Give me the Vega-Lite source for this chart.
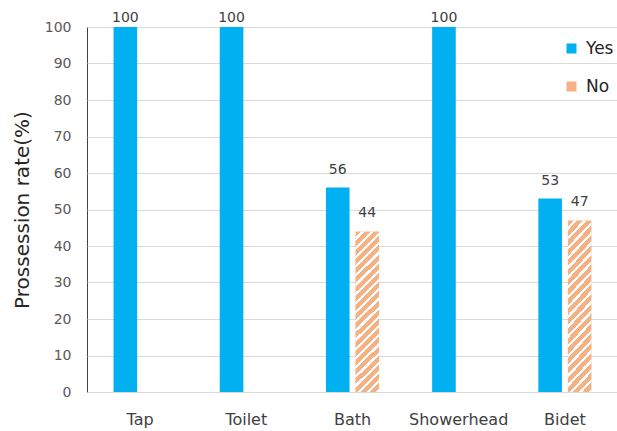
{
  "$schema": "https://vega.github.io/schema/vega-lite/v6.json",
  "width": 531,
  "height": 365,
  "autosize": {"type": "none"},
  "padding": {"left": 87, "top": 27, "right": 0, "bottom": 39},
  "background": "white",
  "config": {
    "view": {"stroke": "#404040", "strokeWidth": 1},
    "font": "DejaVu Sans"
  },
  "data": {
    "values": [
      {"item": "Tap", "answer": "Yes", "value": 100},
      {"item": "Tap", "answer": "No", "value": 0},
      {"item": "Toilet", "answer": "Yes", "value": 100},
      {"item": "Toilet", "answer": "No", "value": 0},
      {"item": "Bath", "answer": "Yes", "value": 56},
      {"item": "Bath", "answer": "No", "value": 44},
      {"item": "Showerhead", "answer": "Yes", "value": 100},
      {"item": "Showerhead", "answer": "No", "value": 0},
      {"item": "Bidet", "answer": "Yes", "value": 53},
      {"item": "Bidet", "answer": "No", "value": 47}
    ]
  },
  "transform": [{"filter": "datum.value > 0"}],
  "encoding": {
    "x": {
      "field": "item",
      "type": "nominal",
      "sort": ["Tap", "Toilet", "Bath", "Showerhead", "Bidet"],
      "scale": {"paddingInner": 0.5, "paddingOuter": 0.25},
      "axis": {
        "title": null,
        "labelAngle": 0,
        "domain": false,
        "ticks": false,
        "grid": false,
        "labelFontSize": 16,
        "labelColor": "#404040",
        "labelPadding": 19
      }
    },
    "xOffset": {
      "field": "answer",
      "type": "nominal",
      "sort": ["Yes", "No"],
      "scale": {"paddingInner": 0.2, "paddingOuter": 0}
    },
    "y": {
      "field": "value",
      "type": "quantitative",
      "scale": {"domain": [0, 100], "nice": false},
      "axis": {
        "title": "Prossession rate(%)",
        "titleFontSize": 20,
        "titleFontWeight": "normal",
        "titleColor": "#262626",
        "titlePadding": 12,
        "values": [0, 10, 20, 30, 40, 50, 60, 70, 80, 90, 100],
        "labelFontSize": 14,
        "labelColor": "#595959",
        "labelPadding": 16,
        "ticks": false,
        "domain": false,
        "grid": true,
        "gridColor": "#D9D9D9",
        "gridWidth": 1
      }
    }
  },
  "layer": [
    {
      "mark": {"type": "bar"},
      "encoding": {
        "color": {
          "field": "answer",
          "type": "nominal",
          "sort": ["Yes", "No"],
          "scale": {"domain": ["Yes", "No"], "range": ["#00B0F0", "#F4B183"]},
          "legend": {
            "title": null,
            "orient": "none",
            "legendX": 476,
            "legendY": 13,
            "symbolType": "square",
            "symbolSize": 100,
            "symbolStrokeWidth": 0,
            "labelFontSize": 17,
            "labelColor": "#262626",
            "labelOffset": 6,
            "rowPadding": 20
          }
        }
      }
    },
    {
      "transform": [{"filter": "datum.answer === 'No'"}],
      "mark": {
        "type": "bar",
        "fill": {
          "gradient": "linear",
          "x1": 0, "y1": 0, "x2": 0.1621, "y2": 1.1212,
          "stops": [
            {"offset": 0, "color": "rgba(255,255,255,0)"}, {"offset": 0.0325, "color": "rgba(255,255,255,0)"}, {"offset": 0.0325, "color": "#ffffff"}, {"offset": 0.05, "color": "#ffffff"},
            {"offset": 0.05, "color": "rgba(255,255,255,0)"}, {"offset": 0.0825, "color": "rgba(255,255,255,0)"}, {"offset": 0.0825, "color": "#ffffff"}, {"offset": 0.1, "color": "#ffffff"},
            {"offset": 0.1, "color": "rgba(255,255,255,0)"}, {"offset": 0.1325, "color": "rgba(255,255,255,0)"}, {"offset": 0.1325, "color": "#ffffff"}, {"offset": 0.15, "color": "#ffffff"},
            {"offset": 0.15, "color": "rgba(255,255,255,0)"}, {"offset": 0.1825, "color": "rgba(255,255,255,0)"}, {"offset": 0.1825, "color": "#ffffff"}, {"offset": 0.2, "color": "#ffffff"},
            {"offset": 0.2, "color": "rgba(255,255,255,0)"}, {"offset": 0.2325, "color": "rgba(255,255,255,0)"}, {"offset": 0.2325, "color": "#ffffff"}, {"offset": 0.25, "color": "#ffffff"},
            {"offset": 0.25, "color": "rgba(255,255,255,0)"}, {"offset": 0.2825, "color": "rgba(255,255,255,0)"}, {"offset": 0.2825, "color": "#ffffff"}, {"offset": 0.3, "color": "#ffffff"},
            {"offset": 0.3, "color": "rgba(255,255,255,0)"}, {"offset": 0.3325, "color": "rgba(255,255,255,0)"}, {"offset": 0.3325, "color": "#ffffff"}, {"offset": 0.35, "color": "#ffffff"},
            {"offset": 0.35, "color": "rgba(255,255,255,0)"}, {"offset": 0.3825, "color": "rgba(255,255,255,0)"}, {"offset": 0.3825, "color": "#ffffff"}, {"offset": 0.4, "color": "#ffffff"},
            {"offset": 0.4, "color": "rgba(255,255,255,0)"}, {"offset": 0.4325, "color": "rgba(255,255,255,0)"}, {"offset": 0.4325, "color": "#ffffff"}, {"offset": 0.45, "color": "#ffffff"},
            {"offset": 0.45, "color": "rgba(255,255,255,0)"}, {"offset": 0.4825, "color": "rgba(255,255,255,0)"}, {"offset": 0.4825, "color": "#ffffff"}, {"offset": 0.5, "color": "#ffffff"},
            {"offset": 0.5, "color": "rgba(255,255,255,0)"}, {"offset": 0.5325, "color": "rgba(255,255,255,0)"}, {"offset": 0.5325, "color": "#ffffff"}, {"offset": 0.55, "color": "#ffffff"},
            {"offset": 0.55, "color": "rgba(255,255,255,0)"}, {"offset": 0.5825, "color": "rgba(255,255,255,0)"}, {"offset": 0.5825, "color": "#ffffff"}, {"offset": 0.6, "color": "#ffffff"},
            {"offset": 0.6, "color": "rgba(255,255,255,0)"}, {"offset": 0.6325, "color": "rgba(255,255,255,0)"}, {"offset": 0.6325, "color": "#ffffff"}, {"offset": 0.65, "color": "#ffffff"},
            {"offset": 0.65, "color": "rgba(255,255,255,0)"}, {"offset": 0.6825, "color": "rgba(255,255,255,0)"}, {"offset": 0.6825, "color": "#ffffff"}, {"offset": 0.7, "color": "#ffffff"},
            {"offset": 0.7, "color": "rgba(255,255,255,0)"}, {"offset": 0.7325, "color": "rgba(255,255,255,0)"}, {"offset": 0.7325, "color": "#ffffff"}, {"offset": 0.75, "color": "#ffffff"},
            {"offset": 0.75, "color": "rgba(255,255,255,0)"}, {"offset": 0.7825, "color": "rgba(255,255,255,0)"}, {"offset": 0.7825, "color": "#ffffff"}, {"offset": 0.8, "color": "#ffffff"},
            {"offset": 0.8, "color": "rgba(255,255,255,0)"}, {"offset": 0.8325, "color": "rgba(255,255,255,0)"}, {"offset": 0.8325, "color": "#ffffff"}, {"offset": 0.85, "color": "#ffffff"},
            {"offset": 0.85, "color": "rgba(255,255,255,0)"}, {"offset": 0.8825, "color": "rgba(255,255,255,0)"}, {"offset": 0.8825, "color": "#ffffff"}, {"offset": 0.9, "color": "#ffffff"},
            {"offset": 0.9, "color": "rgba(255,255,255,0)"}, {"offset": 0.9325, "color": "rgba(255,255,255,0)"}, {"offset": 0.9325, "color": "#ffffff"}, {"offset": 0.95, "color": "#ffffff"},
            {"offset": 0.95, "color": "rgba(255,255,255,0)"}, {"offset": 0.9825, "color": "rgba(255,255,255,0)"}, {"offset": 0.9825, "color": "#ffffff"}, {"offset": 1, "color": "#ffffff"}
          ]
        }
      }
    },
    {
      "transform": [{"filter": "datum.value >= 100"}],
      "mark": {"type": "text", "baseline": "bottom", "dy": -2, "fontSize": 14, "color": "#404040"},
      "encoding": {
        "text": {"field": "value", "type": "quantitative"}
      }
    },
    {
      "transform": [{"filter": "datum.value < 100"}],
      "mark": {"type": "text", "baseline": "bottom", "dy": -11, "fontSize": 14, "color": "#404040"},
      "encoding": {
        "text": {"field": "value", "type": "quantitative"}
      }
    }
  ]
}
